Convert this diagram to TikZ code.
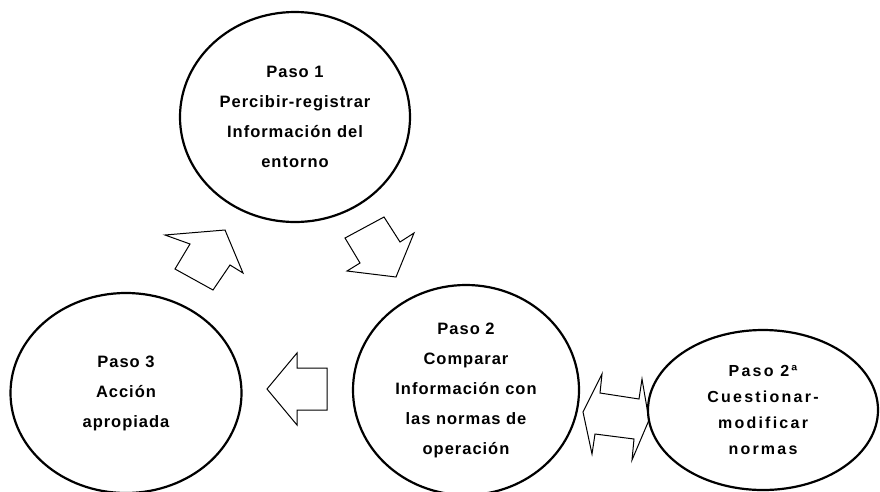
\documentclass[tikz,border=0pt]{standalone}
\usepackage{fontspec}
\setmainfont{Liberation Sans}
\usetikzlibrary{shapes.geometric}

\tikzset{
	paso/.style = {draw, ellipse, line width = 2.2pt, inner sep = 0pt, align = center,
			font = \fontsize{16.5}{30}\selectfont\bfseries\addfontfeatures{LetterSpace=6}},
	pasoa/.style = {paso, font = \fontsize{16}{26}\selectfont\bfseries\addfontfeatures{LetterSpace=14}},
	flecha/.style = {draw, fill = white, line width = 1pt, line join = miter}
}

\begin{document}
\begin{tikzpicture}[x = 1pt, y = -1pt]
			      \useasboundingbox (0,0) rectangle (880,491);

			      \draw [flecha] (165,235)--(225,230)--(243,273)--(230,265)--(213,290)--(175,269)--(190,244)--cycle;
			      \draw [flecha] (345,238)--(384,217)--(400,242)--(414,233)--(396,277)--(347,271)--(360,263)--cycle;
			      \draw [flecha] (267,389)--(297,353)--(297,368)--(327,368)--(327,410)--(297,410)--(297,425)--cycle;
			      \draw [flecha] (583,412)--(602,374)--(600,393)--(639,399)--(642,379)--(649,420)
				      --(632,460)--(634,439)--(595,434)--(592,454)--cycle;

			      \node [paso, minimum width = 230pt, minimum height = 210pt] (paso1) at (295,117)
				      {Paso 1\\Percibir-registrar\\Información del\\entorno};
			      \node [paso, minimum width = 226pt, minimum height = 210pt] (paso2) at (466,390)
				      {Paso 2\\Comparar\\Información con\\las normas de\\operación};
			      \node [paso, minimum width = 231pt, minimum height = 200pt] (paso3) at (126,393)
				      {Paso 3\\Acción\\apropiada};
			      \node [pasoa, minimum width = 230pt, minimum height = 160pt] (paso2a) at (763,410)
				      {Paso 2ª\\Cuestionar-\\modificar\\normas};

		      \end{tikzpicture}
\end{document}
